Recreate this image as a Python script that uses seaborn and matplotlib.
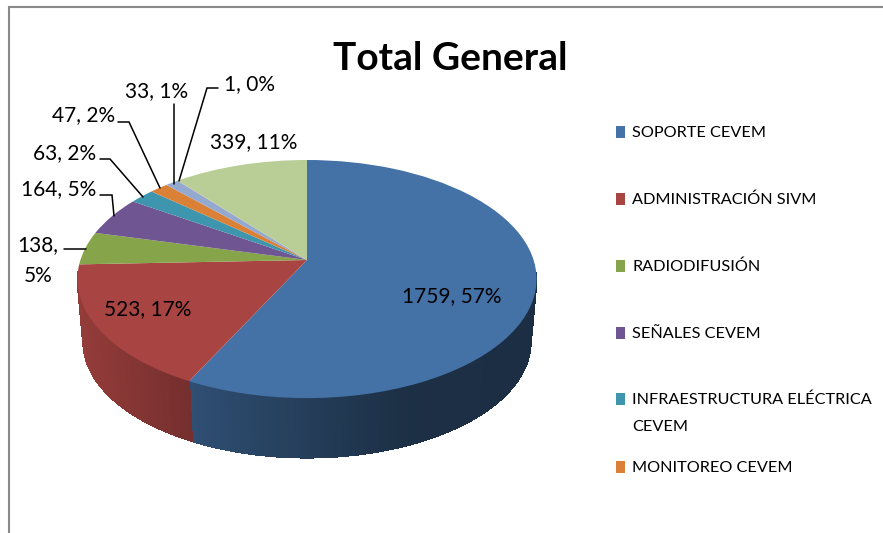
import numpy as np
import matplotlib
matplotlib.use("Agg")
import matplotlib.pyplot as plt
import seaborn as sns
from matplotlib.collections import PolyCollection
from matplotlib.patches import Rectangle
from matplotlib.transforms import Transform

sns.set_theme(style="white")
plt.rcParams["font.family"] = ["Lato", "DejaVu Sans"]

# datos
categorias = ["SOPORTE CEVEM", "ADMINISTRACIÓN SIVM", "RADIODIFUSIÓN", "SEÑALES CEVEM",
              "INFRAESTRUCTURA ELÉCTRICA\nCEVEM", "MONITOREO CEVEM"]
valores = [1759, 523, 138, 164, 63, 47, 33, 1, 339]
porcentajes = [57, 17, 5, 5, 2, 2, 1, 0, 11]
colores = sns.color_palette(["#4472A6", "#A84442", "#86A44A", "#6F5591", "#3E96AE",
                             "#DA8137", "#93A9CF", "#D19392", "#B9CD96"])

# perspectiva del disco (circulo unidad -> pixeles)
CX, CY = 307, 260
K, A, B = 0.16, 116, 226.6
PROF = 63
ESC_BASE = 0.975


class Perspectiva(Transform):
    input_dims = 2
    output_dims = 2
    is_affine = False
    has_inverse = False

    def transform_non_affine(self, values):
        values = np.asarray(values, dtype=float)
        d = 1 + K * values[:, 1]
        return np.column_stack((CX + B * values[:, 0] / d, CY - A * values[:, 1] / d))


persp = Perspectiva()

fig, ax = plt.subplots(figsize=(8.83, 5.33), dpi=100)
fig.subplots_adjust(0, 0, 1, 1)

wedges, _ = ax.pie(valores, colors=colores, startangle=90, counterclock=False,
                   radius=1, wedgeprops={"linewidth": 0})
for w in wedges:
    w.set_transform(persp + ax.transData)
    w.set_zorder(3)

ax.set_aspect("auto")
ax.set_xlim(0, 883)
ax.set_ylim(533, 0)
ax.axis("off")

# pared lateral, sombreada segun x
fracs = np.cumsum([0] + valores) / sum(valores)
quads, caras = [], []
for i, col in enumerate(colores):
    a0 = np.pi / 2 - 2 * np.pi * fracs[i]
    a1 = np.pi / 2 - 2 * np.pi * fracs[i + 1]
    n = max(2, int(abs(a1 - a0) / 0.01))
    t = np.linspace(a0, a1, n)
    arriba = persp.transform_non_affine(np.column_stack((np.cos(t), np.sin(t))))
    abajo = arriba.copy()
    abajo[:, 0] = CX + (arriba[:, 0] - CX) * ESC_BASE
    abajo[:, 1] = CY + (arriba[:, 1] - CY) * ESC_BASE + PROF
    for j in range(n - 1):
        if np.sin(t[j]) > -0.1:
            continue
        quads.append([arriba[j], arriba[j + 1], abajo[j + 1], abajo[j]])
        xm = (arriba[j, 0] + arriba[j + 1, 0]) / 2
        f = np.interp(xm, [78, 189, 400, 537], [0.88, 0.69, 0.42, 0.40])
        caras.append(tuple(np.array(col) * f))
ax.add_collection(PolyCollection(quads, facecolors=caras, edgecolors=caras,
                                 linewidths=0.6, antialiased=False, zorder=2))

# titulo
ax.text(450, 58, "Total General", fontsize=28, fontweight="bold", color="black",
        ha="center", va="center")

# etiquetas
etq = [f"{v}, {p}%" for v, p in zip(valores, porcentajes)]
pos_etq = [(452, 296), (148, 309), None, (59, 189), (65, 153), (84, 115), (157, 91),
           (249, 84), (254, 142)]
for texto, pos in zip(etq, pos_etq):
    if pos is not None:
        ax.text(pos[0], pos[1], texto, fontsize=15, color="black", ha="center",
                va="center", zorder=5)
ax.text(17, 245, f"{valores[2]},", fontsize=15, color="black", va="center", zorder=5)
ax.text(24, 276, f"{porcentajes[2]}%", fontsize=15, color="black", va="center", zorder=5)

# lineas guia
guias = [
    ([64, 86], [249, 249]),
    ([100, 112, 114], [195, 195, 216]),
    ([100, 110, 143], [159, 159, 197]),
    ([118, 129, 160], [122, 122, 188]),
    ([174, 174], [104, 184]),
    ([218, 207, 179], [88, 88, 181]),
]
for gx, gy in guias:
    ax.plot(gx, gy, color="black", lw=1.1, zorder=4, solid_joinstyle="miter")

# leyenda
filas = [132, 199, 266, 333, 399, 467]
for cat, col, y in zip(categorias, colores, filas):
    ax.add_patch(Rectangle((616, y - 6), 9, 12, facecolor=col, edgecolor="none", zorder=5))
    lineas = cat.split("\n")
    ax.text(632, y + 1, lineas[0], fontsize=11.7, color="black", va="center", zorder=5)
    if len(lineas) > 1:
        ax.text(632, y + 28, lineas[1], fontsize=11.7, color="black", va="center", zorder=5)

# marco: solo arriba y a la izquierda
ax.plot([9, 9, 883], [533, 6.5, 6.5], color="#8a8a8a", lw=1.5, zorder=1,
        solid_joinstyle="miter", clip_on=False)

fig.savefig("out.png", dpi=100, facecolor="white")
